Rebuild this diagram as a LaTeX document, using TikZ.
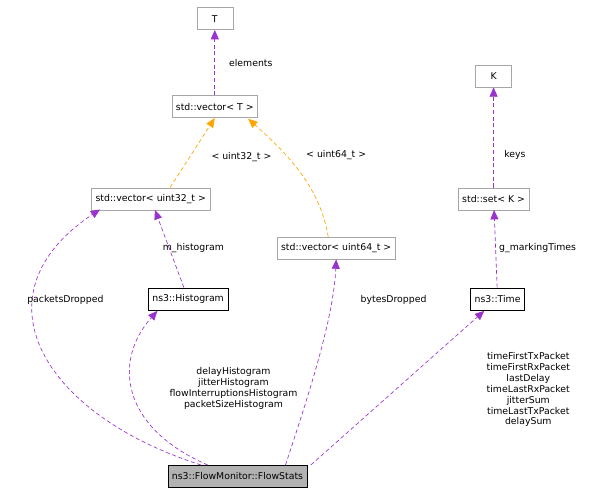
\documentclass[tikz,border=0pt]{standalone}
\usepackage{fontspec}
\setmainfont{DejaVu Sans}
\usetikzlibrary{arrows.meta}

\definecolor{usecol}{HTML}{9A32CD}
\definecolor{tplcol}{HTML}{FFA500}

\begin{document}
\begin{tikzpicture}[x=1pt,y=-1pt,font=\fontsize{7}{8.2}\selectfont]

\tikzset{
  cls/.style={draw=gray!70, minimum height=16.5pt, inner sep=3pt},
  main/.style={cls, draw=black},
  use/.style={densely dashed, line width=0.5pt, color=usecol, -{Triangle[length=7pt,width=6pt]}},
  tpl/.style={densely dashed, line width=0.5pt, color=tplcol, -{Triangle[length=7pt,width=6pt]}},
  lbl/.style={align=center, inner sep=1pt, text=black},
}

\useasboundingbox (0,0) rectangle (458,374);

% classes
\node[cls, minimum width=27pt, name=T] at (161,14) {T};
\node[cls, name=vecT] at (161,80) {std::vector< T >};
\node[cls, name=vec32] at (113,149) {std::vector< uint32\_t >};
\node[cls, name=vec64] at (252,186) {std::vector< uint64\_t >};
\node[cls, minimum width=27pt, name=K] at (370,57) {K};
\node[cls, name=setK] at (370,149) {std::set< K >};
\node[main, name=hist] at (141,224) {ns3::Histogram};
\node[main, name=time] at (373,224) {ns3::Time};
\node[main, fill=gray!60, name=stats] at (178,357) {ns3::FlowMonitor::FlowStats};

% templates
\draw[use] (vecT) -- (T);
\node[lbl] (ellbl) at (188,47) {elements};
\draw[tpl] (vec32.north east) ++(-30,0) -- (vecT.south);
\node[lbl] (l32) at (181,118) {< uint32\_t >};
\draw[tpl] (vec64.north) ++(-6,0) .. controls (240,140) and (215,115) .. (186,89);
\node[lbl] (l64) at (252,116) {< uint64\_t >};
\draw[use] (setK) -- (K);
\node[lbl] (klbl) at (386,116) {keys};

% members
\draw[use] (hist) -- (vec32);
\node[lbl] (mlbl) at (145,186) {m\_histogram};
\draw[use] (time) -- (setK);
\node[lbl] (glbl) at (403,186) {g\_markingTimes};
\draw[use] (stats.north west) ++(25,0) .. controls (30,310) and (-20,220) .. (75,157);
\node[lbl] (plbl) at (49,225) {packetsDropped};
\draw[use] (stats.north) ++(36,0) .. controls (230,300) and (250,240) .. (vec64.south);
\draw[use] (stats.north west) ++(30,0) .. controls (90,320) and (85,270) .. (118,233);
\node[lbl] (histlbl) at (175,291) {delayHistogram\\jitterHistogram\\flowInterruptionsHistogram\\packetSizeHistogram};
\node[lbl] (blbl) at (295,225) {bytesDropped};
\draw[use] (stats.north) ++(55,0) -- (363,233);
\node[lbl] (timelbl) at (396,292) {timeFirstTxPacket\\timeFirstRxPacket\\lastDelay\\timeLastRxPacket\\jitterSum\\timeLastTxPacket\\delaySum};

\end{tikzpicture}
\end{document}
